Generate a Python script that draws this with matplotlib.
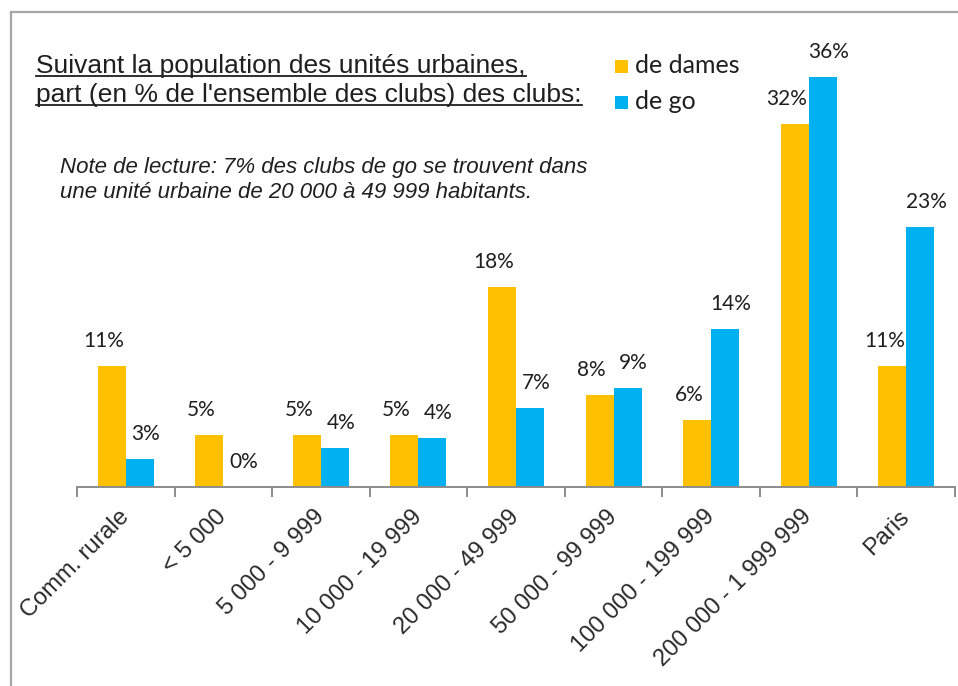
import matplotlib
matplotlib.use("Agg")
import matplotlib.pyplot as plt
import numpy as np
from matplotlib.lines import Line2D
from matplotlib.patches import Rectangle

# ---------------- data ----------------
categories = ["Comm. rurale", "< 5 000", "5 000 - 9 999", "10 000 - 19 999",
              "20 000 - 49 999", "50 000 - 99 999", "100 000 - 199 999",
              "200 000 - 1 999 999", "Paris"]
dames = [10.6, 4.6, 4.6, 4.6, 17.6, 8.1, 5.9, 31.9, 10.6]
go = [2.5, 0.0, 3.4, 4.3, 6.9, 8.7, 13.9, 36.0, 22.8]
dames_labels = ["11%", "5%", "5%", "5%", "18%", "8%", "6%", "32%", "11%"]
go_labels = ["3%", "0%", "4%", "4%", "7%", "9%", "14%", "36%", "23%"]
series_names = ["de dames", "de go"]

title_lines = ["Suivant la population des unités urbaines,",
               "part (en % de l'ensemble des clubs) des clubs:"]
note_lines = ["Note de lecture: 7% des clubs de go se trouvent dans",
              "une unité urbaine de 20 000 à 49 999 habitants."]

# ---------------- style ----------------
W, H = 958, 686
C_DAMES = "#FFC000"
C_GO = "#00B0F0"
TXT = "#1f1f1f"
AXIS = "#8c8c8c"
FRAME = "#a6a6a6"

def fx(px):
    return px / W

def fy(py):
    return 1 - py / H

fig = plt.figure(figsize=(W / 100, H / 100), dpi=100)
fig.patch.set_facecolor("white")

# outer frame (left and top visible)
fig.add_artist(Line2D([fx(11), fx(11)], [fy(12), fy(700)], color=FRAME, lw=1.6))
fig.add_artist(Line2D([fx(11), fx(970)], [fy(12), fy(12)], color=FRAME, lw=1.6))

# axes: baseline at y=487, 11.39 px per percent
ymax = 40
px_per = 11.39
ax_left, ax_right, base = 77, 955, 487
ax = fig.add_axes([fx(ax_left), fy(base), (ax_right - ax_left) / W, ymax * px_per / H])
ax.set_xlim(-0.5, len(categories) - 0.5)
ax.set_ylim(0, ymax)
ax.patch.set_alpha(0)

x = np.arange(len(categories))
bw = 0.287
ax.bar(x - bw / 2, dames, width=bw, color=C_DAMES, label=series_names[0])
ax.bar(x + bw / 2, go, width=bw, color=C_GO, label=series_names[1])

for s in ["top", "right", "left"]:
    ax.spines[s].set_visible(False)
ax.spines["bottom"].set_color(AXIS)
ax.spines["bottom"].set_linewidth(1.4)
ax.set_yticks([])

ax.set_xticks(x)
ax.set_xticklabels(categories, rotation=45, ha="right", va="center",
                   rotation_mode="anchor", fontsize=17,
                   family=["Liberation Sans", "DejaVu Sans"], color="#2a2a2a")
ax.tick_params(axis="x", which="major", length=0, pad=19)
ax.set_xticks(np.arange(-0.5, len(categories), 1.0), minor=True)
ax.tick_params(axis="x", which="minor", length=7, width=1.4, color=AXIS, direction="out")

lab_font = dict(fontsize=15, family=["Lato", "DejaVu Sans"], color=TXT)
for i in range(len(categories)):
    ax.annotate(dames_labels[i], (x[i] - bw / 2, dames[i]), xytext=(-8, 19),
                textcoords="offset pixels", ha="center", va="baseline", **lab_font)
    ax.annotate(go_labels[i], (x[i] + bw / 2, go[i]), xytext=(6, 19),
                textcoords="offset pixels", ha="center", va="baseline", **lab_font)

# title with underline
title_font = dict(fontsize=19, family=["Liberation Sans", "DejaVu Sans"], color=TXT)
title_texts = []
for line, base_y in zip(title_lines, [73, 102]):
    t = fig.text(fx(36), fy(base_y), line, ha="left", va="baseline", **title_font)
    title_texts.append((t, base_y))

# note (italic)
for line, base_y in zip(note_lines, [173, 198]):
    fig.text(fx(60), fy(base_y), line, ha="left", va="baseline", style="italic",
             fontsize=16, family=["Liberation Sans", "DejaVu Sans"], color=TXT)

# legend (manual placement)
for name, col, base_y in zip(series_names, [C_DAMES, C_GO], [73, 109]):
    fig.add_artist(Rectangle((fx(615), fy(base_y)), 13 / W, 13 / H,
                             facecolor=col, edgecolor="none"))
    fig.text(fx(635), fy(base_y), name, ha="left", va="baseline",
             fontsize=18, family=["Lato", "DejaVu Sans"], color=TXT)

# underline title
fig.canvas.draw()
renderer = fig.canvas.get_renderer()
for t, base_y in title_texts:
    bb = t.get_window_extent(renderer)
    fig.add_artist(Line2D([bb.x0 / W, bb.x1 / W], [fy(base_y + 3), fy(base_y + 3)],
                          color=TXT, lw=1.3))

fig.savefig("out.png", dpi=100, facecolor="white")
